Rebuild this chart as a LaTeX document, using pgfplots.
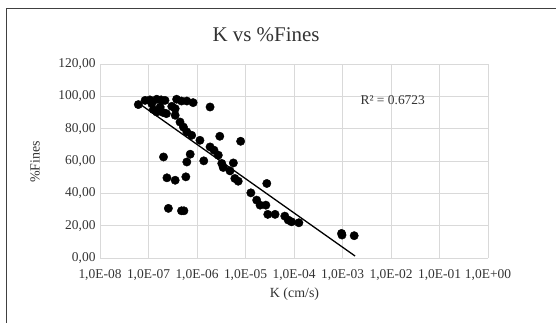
\documentclass[border=0pt]{standalone}
\usepackage{pgfplots}
\pgfplotsset{compat=1.18}
\usepackage{fontspec}
\setmainfont{Liberation Serif}
\definecolor{gridc}{HTML}{D9D9D9}
\definecolor{txt}{HTML}{333333}
\begin{document}
\begin{tikzpicture}[x=1bp,y=1bp]
\useasboundingbox (0,0) rectangle (556,322);
\draw[black!75, line width=1bp] (6,-10) rectangle (570,313);
\begin{axis}[at={(100bp,64bp)}, anchor=south west, scale only axis,
  width=388bp, height=194bp,
  xmode=log, xmin=1e-8, xmax=1, ymin=0, ymax=120,
  xtick={1e-8,1e-7,1e-6,1e-5,1e-4,1e-3,1e-2,1e-1,1},
  xticklabels={{1,0E-08},{1,0E-07},{1,0E-06},{1,0E-05},{1,0E-04},{1,0E-03},{1,0E-02},{1,0E-01},{1,0E+00}},
  ytick={0,20,40,60,80,100,120},
  yticklabels={{0,00},{20,00},{40,00},{60,00},{80,00},{100,00},{120,00}},
  minor xtick={}, log basis x=10,
  grid=major, major grid style={gridc, line width=0.8bp},
  axis line style={draw=none}, tick style={draw=none},
  ticklabel style={font=\fontsize{13.5}{15}\selectfont, text=txt},
  xticklabel style={yshift=-8bp},
  yticklabel style={xshift=-1bp},
  clip=false]
\addplot[only marks, mark=*, mark size=4.2bp, mark options={fill=black, draw=black}] coordinates {
(6.17e-8,94.9) (8.51e-8,97.5) (1.07e-7,97.8) (1.48e-7,98.2) (1.82e-7,97.8)
(2.19e-7,97.5) (1.17e-7,95.5) (1.26e-7,91.8) (1.48e-7,90.3) (1.74e-7,93.4)
(2.0e-7,90.0) (2.34e-7,89.3) (3.02e-7,93.8) (3.55e-7,92.4) (3.55e-7,88.3)
(3.8e-7,98.2) (4.79e-7,97.1) (6.17e-7,97.1) (8.32e-7,96.1) (4.47e-7,84.1)
(5.25e-7,81.0) (6.17e-7,78.0) (7.76e-7,75.9) (1.15e-6,72.8) (1.86e-6,93.4)
(1.86e-6,68.7) (2.24e-6,66.7) (2.75e-6,63.6) (3.24e-6,58.5) (3.47e-6,56.0)
(2.95e-6,75.3) (7.94e-6,72.2) (5.62e-6,58.8) (4.79e-6,53.9) (6.03e-6,49.2)
(7.08e-6,47.5) (1.38e-6,60.1) (7.24e-7,64.2) (6.17e-7,59.4) (2.04e-7,62.5)
(2.4e-7,49.6) (3.55e-7,48.1) (5.89e-7,50.2) (2.57e-7,30.7) (4.79e-7,29.2)
(5.37e-7,29.2) (1.29e-5,40.3) (1.7e-5,35.8) (2.0e-5,32.7) (2.63e-5,32.7)
(2.75e-5,46.1) (2.88e-5,27.0) (4.07e-5,27.0) (6.46e-5,25.9) (7.59e-5,23.5)
(8.91e-5,22.4) (1.26e-4,21.8) (9.55e-4,15.2) (9.77e-4,14.2) (1.74e-3,13.8)
};
\addplot[black, line width=1.3bp, no marks] coordinates {(6.8e-8,95.0) (1.82e-3,1.2)};
\node[anchor=west, font=\fontsize{13.5}{15}\selectfont, text=txt] at (axis cs:2e-3,97.5) {R² = 0.6723};
\end{axis}
\node[font=\fontsize{21}{23}\selectfont, text=txt] at (266,287) {K vs \%Fines};
\node[font=\fontsize{14}{16}\selectfont, text=txt] at (294.5,28) {K (cm/s)};
\node[font=\fontsize{14}{16}\selectfont, text=txt, rotate=90] at (35,160) {\%Fines};
\end{tikzpicture}
\end{document}
